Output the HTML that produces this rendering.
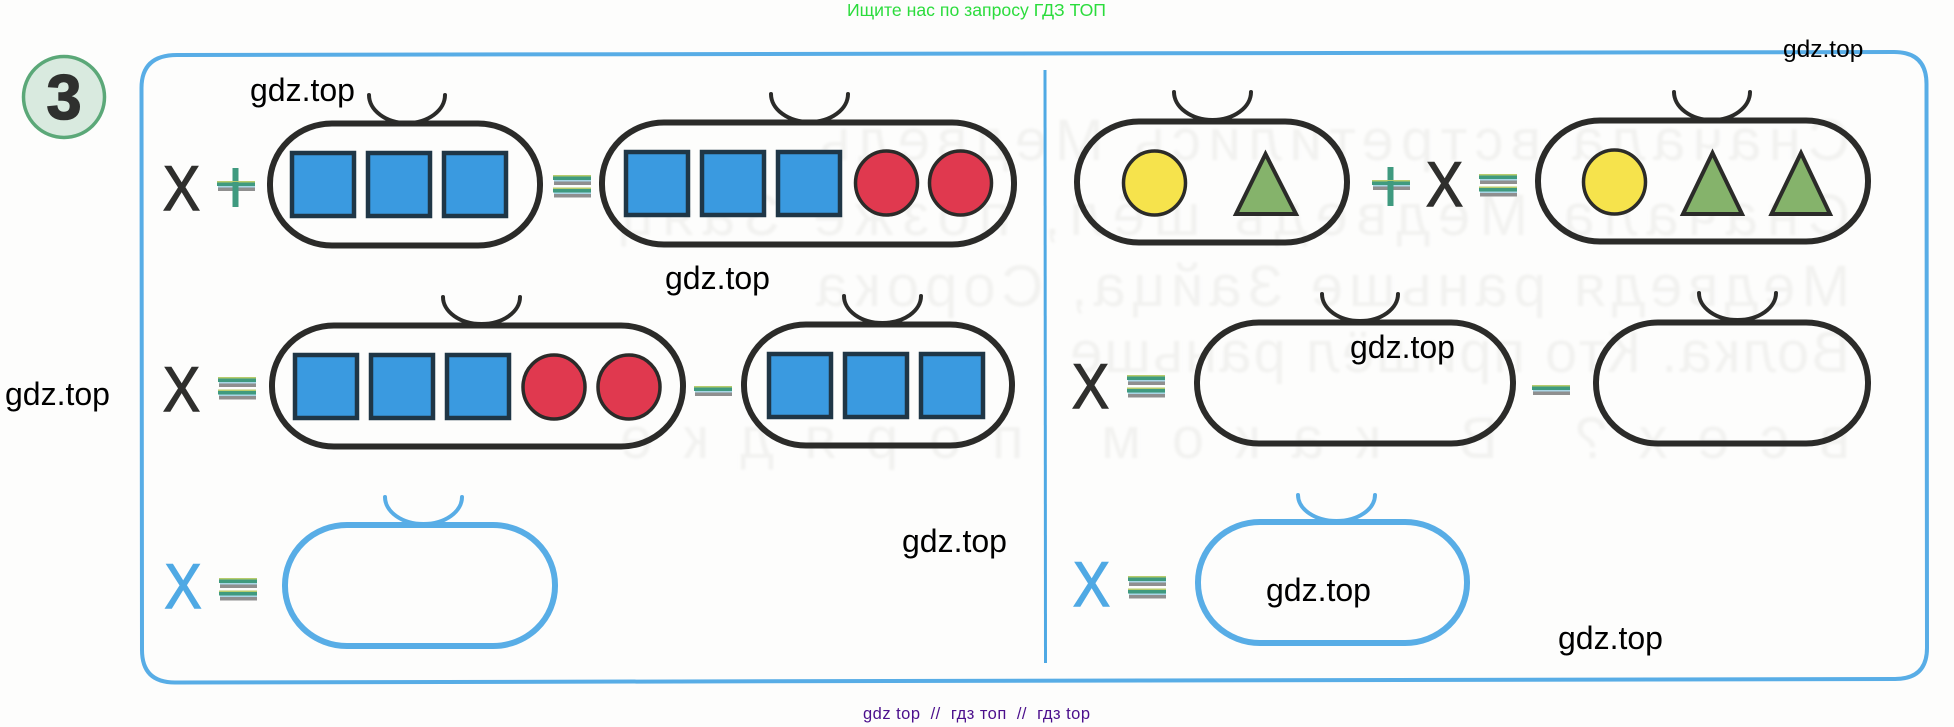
<!DOCTYPE html>
<html lang="ru">
<head>
<meta charset="utf-8">
<title>Задание 3</title>
<style>
html,body{margin:0;padding:0;background:#fdfdfc;}
svg{display:block;}
text{font-family:"Liberation Sans","Noto Sans CJK SC",sans-serif;}
.k{fill:none;stroke:#2b2b29;stroke-width:6;}
.a{fill:none;stroke:#2b2b29;stroke-width:4;stroke-linecap:round;}
.b{fill:none;stroke:#58ade6;stroke-width:6;}
.ab{fill:none;stroke:#58ade6;stroke-width:4;stroke-linecap:round;}
.s{fill:#3a9ae0;stroke:#1f3646;stroke-width:4.5;}
.c{fill:#e0394f;stroke:#2b2b29;stroke-width:3.5;}
.y{fill:#f6e34c;stroke:#2b2b29;stroke-width:3.5;}
.t{fill:#85b36b;stroke:#2b2b29;stroke-width:4;stroke-linejoin:miter;}
.x{font-size:63px;fill:#2f2f2d;stroke:#2f2f2d;stroke-width:1.4;}
.xb{font-size:63px;fill:#4fa9e4;stroke:#4fa9e4;stroke-width:1.4;}
.w{font-size:32px;fill:#000;}
.g{font-size:58px;fill:#f2f2f0;}
</style>
</head>
<body>
<svg width="1954" height="727" viewBox="0 0 1954 727" xmlns="http://www.w3.org/2000/svg">
<defs>
  <filter id="soft"><feGaussianBlur stdDeviation="1.2"/></filter>
  <g id="bar">
    <rect x="0" y="0" width="38" height="1.5" fill="#b7cc6c"/>
    <rect x="0" y="1.5" width="38" height="3.5" fill="#3f9a7f"/>
    <rect x="1" y="5" width="37" height="1.5" fill="#a9d6e6"/>
    <rect x="1" y="6.5" width="37" height="3.5" fill="#8f8f8f"/>
  </g>
  <g id="eq">
    <use href="#bar" y="0"/>
    <use href="#bar" y="12.5"/>
  </g>
  <g id="plus">
    <rect x="15.5" y="0" width="6" height="39" fill="#3f9a7f"/>
    <use href="#bar" y="13"/>
    <rect x="15.5" y="14" width="6" height="10" fill="#3f9a7f"/>
  </g>
</defs>

<rect width="1954" height="727" fill="#fdfdfc"/>

<!-- faint mirrored bleed-through from the reverse of the page -->
<g filter="url(#soft)" transform="translate(1850,0) scale(-1,1)">
  <text class="g" x="0" y="160" textLength="1030" lengthAdjust="spacing">Сначала встретились Медведь</text>
  <text class="g" x="0" y="235" textLength="1230" lengthAdjust="spacing">Сначала Медведь шёл, позже Заяц</text>
  <text class="g" x="0" y="306" textLength="1034" lengthAdjust="spacing">Медведя раньше Зайца, Сорока</text>
  <text class="g" x="0" y="372" textLength="780" lengthAdjust="spacing">Волка. Кто пришёл раньше</text>
  <text class="g" x="0" y="458" textLength="1230" lengthAdjust="spacing">всех? В каком порядке</text>
</g>

<!-- header -->
<text x="847" y="16" font-size="17.5" fill="#2bdc3c" textLength="259" lengthAdjust="spacingAndGlyphs">Ищите нас по запросу ГДЗ ТОП</text>

<!-- badge -->
<circle cx="64" cy="97" r="40.5" fill="#d9eadf" stroke="#5ba878" stroke-width="3.5"/>
<text x="64" y="119" font-size="63" font-weight="bold" text-anchor="middle" fill="#2f302e" stroke="#2f302e" stroke-width="1.5">3</text>

<!-- outer frame -->
<path d="M177 55 L1894 52 Q1926.5 52 1926.5 84 L1927 648 Q1927 679 1895 679 L175 682.5 Q142 682.5 142 650 L141.5 88 Q141.5 55 177 55 Z" fill="none" stroke="#58ade6" stroke-width="4"/>
<!-- divider -->
<line x1="1045" y1="70" x2="1045.5" y2="663" stroke="#4fa9e4" stroke-width="3"/>

<!-- Row 1 left -->
<text class="x" x="163" y="210" textLength="37" lengthAdjust="spacingAndGlyphs">X</text>
<use href="#plus" x="217" y="168"/>
<rect class="k" x="270" y="123.5" width="270" height="122" rx="62" ry="60"/>
<path class="a" d="M369 95 A38 28 0 0 0 445 95"/>
<rect class="s" x="292" y="153" width="62" height="63"/>
<rect class="s" x="368" y="153" width="62" height="63"/>
<rect class="s" x="444" y="153" width="62" height="63"/>
<use href="#eq" x="553" y="175"/>

<rect class="k" x="602" y="122.5" width="412" height="122" rx="62" ry="60"/>
<path class="a" d="M771 94 A38.5 28 0 0 0 848 94"/>
<rect class="s" x="626" y="152" width="62" height="63"/>
<rect class="s" x="702" y="152" width="62" height="63"/>
<rect class="s" x="778" y="152" width="62" height="63"/>
<ellipse class="c" cx="886.5" cy="183" rx="31" ry="32"/>
<ellipse class="c" cx="960.5" cy="183" rx="31" ry="32"/>

<!-- Row 2 left -->
<text class="x" x="163" y="411" textLength="37" lengthAdjust="spacingAndGlyphs">X</text>
<use href="#eq" x="218" y="377"/>
<rect class="k" x="272" y="325.5" width="411" height="121" rx="62" ry="60"/>
<path class="a" d="M443 297 A38.5 27 0 0 0 520 297"/>
<rect class="s" x="295" y="355" width="62" height="63"/>
<rect class="s" x="371" y="355" width="62" height="63"/>
<rect class="s" x="447" y="355" width="62" height="63"/>
<ellipse class="c" cx="554" cy="387" rx="31" ry="32"/>
<ellipse class="c" cx="629" cy="387" rx="31" ry="32"/>
<use href="#bar" x="694" y="386"/>
<rect class="k" x="744" y="324.5" width="268" height="121" rx="62" ry="60"/>
<path class="a" d="M844 296 A38.5 27 0 0 0 921 296"/>
<rect class="s" x="769" y="354" width="62" height="63"/>
<rect class="s" x="845" y="354" width="62" height="63"/>
<rect class="s" x="921" y="354" width="62" height="63"/>

<!-- Row 3 left -->
<text class="xb" x="164.5" y="608" textLength="37" lengthAdjust="spacingAndGlyphs">X</text>
<use href="#eq" x="219" y="578"/>
<rect class="b" x="285" y="525" width="270" height="121" rx="62" ry="60"/>
<path class="ab" d="M385 497 A38.5 27 0 0 0 462 497"/>

<!-- Row 1 right -->
<rect class="k" x="1077" y="121.5" width="270" height="121" rx="62" ry="60"/>
<path class="a" d="M1174 92 A38.5 28 0 0 0 1251 92"/>
<ellipse class="y" cx="1154.5" cy="183" rx="31" ry="32"/>
<polygon class="t" points="1265.5,154 1236,214 1296,214"/>
<use href="#plus" x="1372" y="167"/>
<text class="x" x="1426" y="206" textLength="37" lengthAdjust="spacingAndGlyphs">X</text>
<use href="#eq" x="1479" y="174"/>
<rect class="k" x="1538" y="120.5" width="330" height="121" rx="62" ry="60"/>
<path class="a" d="M1674 92 A38 28 0 0 0 1750 92"/>
<ellipse class="y" cx="1614.5" cy="182" rx="31" ry="32"/>
<polygon class="t" points="1712.5,153 1683,214 1742,214"/>
<polygon class="t" points="1801,153 1771.5,214 1830,214"/>

<!-- Row 2 right -->
<text class="x" x="1072" y="408" textLength="37" lengthAdjust="spacingAndGlyphs">X</text>
<use href="#eq" x="1127" y="375"/>
<rect class="k" x="1197" y="322.5" width="316" height="121" rx="62" ry="60"/>
<path class="a" d="M1322 294 A38 27 0 0 0 1398 294"/>
<use href="#bar" x="1532" y="385"/>
<rect class="k" x="1596" y="322.5" width="272" height="121" rx="62" ry="60"/>
<path class="a" d="M1699 293 A38.5 27 0 0 0 1776 293"/>

<!-- Row 3 right -->
<text class="xb" x="1073" y="606" textLength="37" lengthAdjust="spacingAndGlyphs">X</text>
<use href="#eq" x="1128" y="576"/>
<rect class="b" x="1198" y="522" width="269" height="121" rx="62" ry="60"/>
<path class="ab" d="M1298 495 A38.5 26 0 0 0 1375 495"/>

<!-- watermarks -->
<text class="w" x="250" y="101">gdz.top</text>
<text class="w" x="665" y="289">gdz.top</text>
<text class="w" x="5" y="405">gdz.top</text>
<text class="w" x="902" y="552">gdz.top</text>
<text class="w" x="1783" y="57" style="font-size:24.5px">gdz.top</text>
<text class="w" x="1350" y="358">gdz.top</text>
<text class="w" x="1266" y="601">gdz.top</text>
<text class="w" x="1558" y="649">gdz.top</text>

<!-- footer -->
<text x="863" y="719" font-size="16.5" fill="#4b0f8c" textLength="227" lengthAdjust="spacing" xml:space="preserve">gdz top  //  гдз топ  //  гдз top</text>
</svg>
</body>
</html>
